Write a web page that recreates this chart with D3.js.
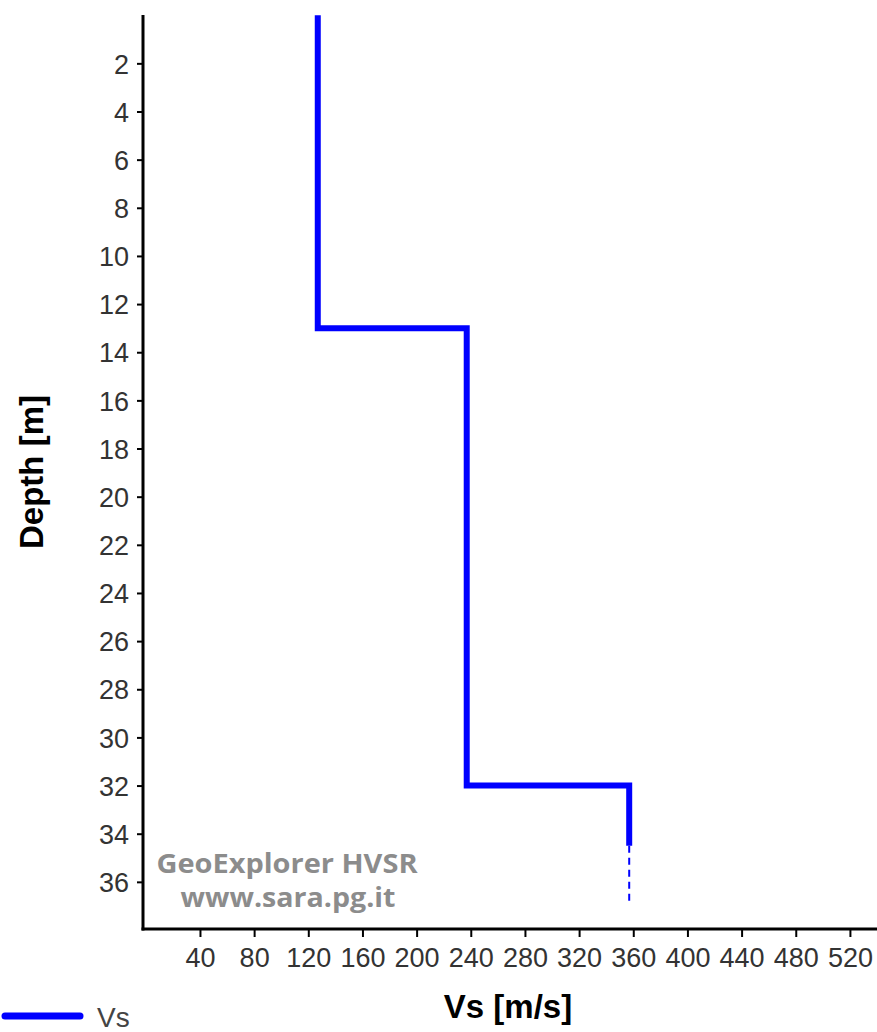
<!DOCTYPE html>
<html>
<head>
<meta charset="utf-8">
<script src="https://cdn.jsdelivr.net/npm/d3@7"></script>
<style>
  body { margin: 0; background: #fff; }
  svg { display: block; }
  .tick text { font-family: "Liberation Sans", Arial, sans-serif; font-size: 27px; fill: #333; }
</style>
</head>
<body>
<div id="chart"></div>
<script>
// layers of the Vs profile
const layerTop = [0, 13, 32];
const layerVs = [127, 237, 357];
const halfSpaceSolidEnd = 34.5;
const halfSpaceDashEnd = 36.8;

const depthTicks = [2, 4, 6, 8, 10, 12, 14, 16, 18, 20, 22, 24, 26, 28, 30, 32, 34, 36];
const vsTicks = [40, 80, 120, 160, 200, 240, 280, 320, 360, 400, 440, 480, 520];

const width = 877, height = 1032;
const axisX = 143, axisY = 929;

const svg = d3.select("#chart").append("svg")
    .attr("width", width)
    .attr("height", height);

const x = d3.scaleLinear().domain([0, 540]).range([145.8, 877]);
const y = d3.scaleLinear().domain([0, 38]).range([15.2, 930]);

/*** axes ***/
const yAxis = svg.append("g")
    .attr("transform", "translate(" + axisX + ",0)")
    .call(d3.axisLeft(y).tickValues(depthTicks).tickSize(6).tickPadding(8).tickSizeOuter(0));
yAxis.select(".domain").remove();
yAxis.selectAll(".tick line").attr("stroke", "#000").attr("stroke-width", 2);
yAxis.selectAll(".tick text").attr("dy", "0.36em");

const xAxis = svg.append("g")
    .attr("transform", "translate(0," + axisY + ")")
    .call(d3.axisBottom(x).tickValues(vsTicks).tickSize(8).tickPadding(11).tickSizeOuter(0));
xAxis.select(".domain").remove();
xAxis.selectAll(".tick line").attr("stroke", "#000").attr("stroke-width", 2);

svg.append("line")
    .attr("x1", axisX).attr("x2", axisX)
    .attr("y1", 15).attr("y2", axisY + 1.5)
    .attr("stroke", "#000").attr("stroke-width", 3);
svg.append("line")
    .attr("x1", axisX - 1.5).attr("x2", width)
    .attr("y1", axisY).attr("y2", axisY)
    .attr("stroke", "#000").attr("stroke-width", 3);

/*** watermark ***/
const wm = svg.append("g")
    .attr("font-family", "'Open Sans', 'DejaVu Sans', sans-serif")
    .attr("font-weight", "bold")
    .attr("font-size", 26)
    .attr("fill", "#8c8c8c")
    .attr("text-anchor", "middle");
wm.append("text").attr("x", 287).attr("y", 873)
    .attr("textLength", 261).attr("lengthAdjust", "spacingAndGlyphs")
    .text("GeoExplorer HVSR");
wm.append("text").attr("x", 288).attr("y", 907)
    .attr("textLength", 215).attr("lengthAdjust", "spacingAndGlyphs")
    .text("www.sara.pg.it");

/*** profile ***/
let pts = [];
layerVs.forEach(function (v, i) {
    let bottom = i < layerTop.length - 1 ? layerTop[i + 1] : halfSpaceSolidEnd;
    pts.push([v, layerTop[i]]);
    pts.push([v, bottom]);
});
const line = d3.line().x(d => x(d[0])).y(d => y(d[1]));

svg.append("path")
    .attr("d", line(pts))
    .attr("fill", "none")
    .attr("stroke", "#0000ff")
    .attr("stroke-width", 6);

const lastVs = layerVs[layerVs.length - 1];
svg.append("path")
    .attr("d", line([[lastVs, halfSpaceSolidEnd], [lastVs, halfSpaceDashEnd]]))
    .attr("fill", "none")
    .attr("stroke", "#0000ff")
    .attr("stroke-width", 2)
    .attr("stroke-dasharray", "7,5");

/*** axis titles ***/
svg.append("text")
    .attr("x", 508).attr("y", 1018)
    .attr("text-anchor", "middle")
    .attr("font-family", "'Liberation Sans', Arial, sans-serif")
    .attr("font-weight", "bold")
    .attr("font-size", 33)
    .attr("fill", "#000")
    .text("Vs [m/s]");

svg.append("text")
    .attr("transform", "translate(43,472) rotate(-90)")
    .attr("text-anchor", "middle")
    .attr("font-family", "'Liberation Sans', Arial, sans-serif")
    .attr("font-weight", "bold")
    .attr("font-size", 33)
    .attr("fill", "#000")
    .text("Depth [m]");

/*** legend ***/
svg.append("line")
    .attr("x1", 5).attr("x2", 80)
    .attr("y1", 1016).attr("y2", 1016)
    .attr("stroke", "#0000ff")
    .attr("stroke-width", 7)
    .attr("stroke-linecap", "round");
svg.append("text")
    .attr("x", 97).attr("y", 1027)
    .attr("font-family", "'Liberation Sans', Arial, sans-serif")
    .attr("font-size", 28)
    .attr("fill", "#444")
    .text("Vs");
</script>
</body>
</html>
